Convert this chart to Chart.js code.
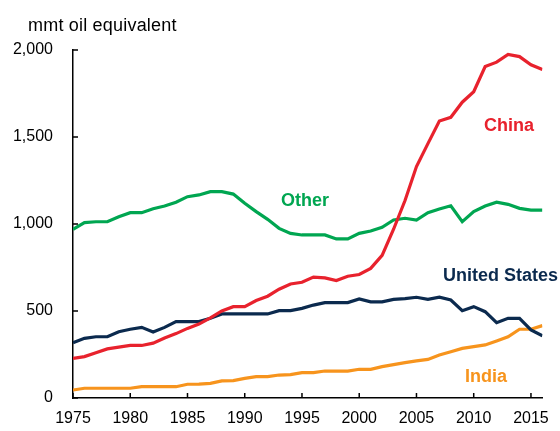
<!DOCTYPE html>
<html>
<head>
<meta charset="utf-8">
<script src="https://cdn.jsdelivr.net/npm/chart.js@4"></script>
<style>
  html, body { margin: 0; padding: 0; background: #fff; }
  #wrap { width: 560px; height: 431px; position: relative; }
</style>
</head>
<body>
<div id="wrap"><canvas id="energyChart"></canvas></div>
<script>
const years = [];
for (let y = 1975; y <= 2016; y++) years.push(y);

const china = [228, 238, 260, 282, 292, 302, 302, 315, 345, 370, 400, 425, 460, 500, 525, 525, 560, 585, 625, 655,
  665, 695, 690, 675, 700, 710, 745, 820, 970, 1135, 1330, 1462, 1592, 1613, 1700, 1760, 1905, 1930, 1975, 1962, 1915, 1888];
const other = [969, 1008, 1013, 1013, 1042, 1065, 1065, 1088, 1103, 1125, 1157, 1167, 1186, 1186, 1172, 1119, 1071, 1027, 975, 946,
  937, 937, 937, 914, 914, 946, 960, 981, 1023, 1033, 1023, 1065, 1086, 1105, 1013, 1071, 1103, 1125, 1113, 1090, 1080, 1080];
const unitedStates = [318, 343, 352, 352, 381, 395, 406, 379, 406, 439, 439, 439, 458, 483, 483, 483, 483, 483, 502, 502,
  515, 534, 548, 548, 548, 569, 553, 553, 567, 571, 579, 567, 579, 563, 502, 525, 496, 433, 458, 458, 391, 358];
const india = [46, 56, 56, 56, 56, 56, 65, 65, 65, 65, 79, 80, 84, 98, 100, 113, 123, 123, 132, 134,
  146, 146, 155, 155, 155, 165, 165, 180, 192, 203, 213, 222, 247, 266, 285, 295, 305, 328, 352, 395, 395, 416];

const yTicks = [0, 500, 1000, 1500, 2000];
const xTicks = [1975, 1980, 1985, 1990, 1995, 2000, 2005, 2010, 2015];

const seriesNames = ['China', 'Other', 'United States', 'India'];
const seriesColors = ['#E8222D', '#00A651', '#0B2A4E', '#F7941D'];

const FONT = "'Liberation Sans', Arial, sans-serif";

function toPoints(values) {
  return values.map((v, i) => ({ x: years[i], y: v }));
}

// inward tick marks, unit label and series names
const decorations = {
  id: 'decorations',
  afterDraw(chart) {
    const { ctx, chartArea, scales } = chart;
    const x = scales.x, y = scales.y;
    ctx.save();
    ctx.strokeStyle = '#000';
    ctx.lineWidth = 1.5;
    ctx.beginPath();
    yTicks.forEach(t => {
      const py = y.getPixelForValue(t);
      ctx.moveTo(chartArea.left, py);
      ctx.lineTo(chartArea.left + 5, py);
    });
    xTicks.forEach(t => {
      const px = x.getPixelForValue(t);
      ctx.moveTo(px, chartArea.bottom);
      ctx.lineTo(px, chartArea.bottom - 5);
    });
    ctx.stroke();

    ctx.fillStyle = '#000';
    ctx.font = '18px ' + FONT;
    ctx.textAlign = 'left';
    ctx.textBaseline = 'alphabetic';
    ctx.letterSpacing = '0.2px';
    ctx.fillText('mmt oil equivalent', 28, 31);

    ctx.font = 'bold 18px ' + FONT;
    ctx.letterSpacing = '0px';
    ctx.textBaseline = 'middle';
    const spots = [[484, 126], [281, 201], [443, 276], [465, 377]];
    seriesNames.forEach((name, i) => {
      ctx.fillStyle = seriesColors[i];
      ctx.fillText(name, spots[i][0], spots[i][1]);
    });
    ctx.restore();
  }
};

new Chart(document.getElementById('energyChart'), {
  type: 'line',
  data: {
    datasets: [china, other, unitedStates, india].map((vals, i) => ({
      label: seriesNames[i],
      data: toPoints(vals),
      borderColor: seriesColors[i],
      backgroundColor: seriesColors[i],
      borderWidth: 3.2,
      pointRadius: 0,
      tension: 0,
      fill: false
    }))
  },
  options: {
    responsive: true,
    maintainAspectRatio: false,
    animation: false,
    layout: { padding: { top: 50, right: 10, left: 0, bottom: 0 } },
    plugins: {
      legend: { display: false },
      tooltip: { enabled: false }
    },
    scales: {
      x: {
        type: 'linear',
        min: 1975,
        max: 2016,
        afterBuildTicks: scale => { scale.ticks = xTicks.map(v => ({ value: v })); },
        afterFit: scale => { scale.height = 33; },
        grid: { display: false, drawTicks: false },
        border: { display: true, color: '#000', width: 1.5 },
        ticks: {
          padding: 11,
          color: '#000',
          font: { family: FONT, size: 16 },
          maxRotation: 0,
          callback: v => String(v)
        }
      },
      y: {
        min: 0,
        max: 2000,
        afterBuildTicks: scale => { scale.ticks = yTicks.map(v => ({ value: v })); },
        afterFit: scale => { scale.width = 73; },
        grid: { display: false, drawTicks: false },
        border: { display: true, color: '#000', width: 1.5 },
        ticks: {
          padding: 20,
          color: '#000',
          font: { family: FONT, size: 16 },
          callback: v => v.toLocaleString('en-US')
        }
      }
    }
  },
  plugins: [decorations]
});
</script>
</body>
</html>
